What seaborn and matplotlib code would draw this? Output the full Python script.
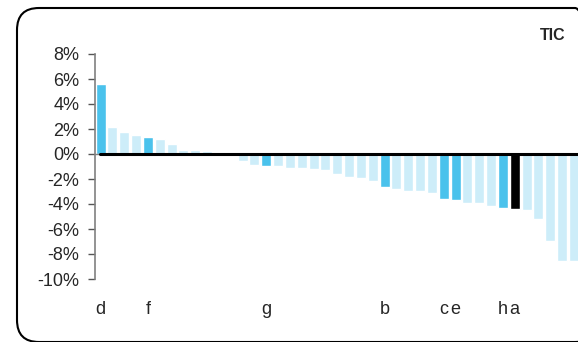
import matplotlib
matplotlib.use("Agg")
import matplotlib.pyplot as plt
from matplotlib.patches import FancyBboxPatch
import pandas as pd
import seaborn as sns

# values in percent, one per bar
values = [5.6, 2.2, 1.8, 1.56, 1.4, 1.24, 0.84, 0.36, 0.36, 0.28, 0.2, 0.03,
          -0.52, -0.84, -0.92, -0.92, -1.08, -1.08, -1.16, -1.24, -1.56, -1.8,
          -1.88, -2.12, -2.6, -2.76, -2.92, -2.92, -3.08, -3.56, -3.64, -3.88,
          -3.88, -4.12, -4.28, -4.36, -4.44, -5.16, -6.92, -8.52, -8.52]
labels = ['d', '', '', '', 'f', '', '', '', '', '', '', '',
          '', '', 'g', '', '', '', '', '', '', '',
          '', '', 'b', '', '', '', '', 'c', 'e', '',
          '', '', 'h', 'a', '', '', '', '', '']
groups = ['hl', 'base', 'base', 'base', 'hl', 'base', 'base', 'base', 'base', 'base', 'base', 'base',
          'base', 'base', 'hl', 'base', 'base', 'base', 'base', 'base', 'base', 'base',
          'base', 'base', 'hl', 'base', 'base', 'base', 'base', 'hl', 'hl', 'base',
          'base', 'base', 'hl', 'focus', 'base', 'base', 'base', 'base', 'base']
yticks = [-10, -8, -6, -4, -2, 0, 2, 4, 6, 8]
ytick_labels = ['-10%', '-8%', '-6%', '-4%', '-2%', '0%', '2%', '4%', '6%', '8%']
title = 'TIC'

palette = {'base': '#CDEDF9', 'hl': '#4AC2EC', 'focus': '#000000'}

df = pd.DataFrame({'pos': list(range(len(values))), 'value': values, 'group': groups})

sns.set_style('white')
plt.rcParams['font.family'] = ['Liberation Sans', 'DejaVu Sans']

fig = plt.figure(figsize=(5.78, 3.42), dpi=100)
ax = fig.add_axes([94.5 / 578, 63 / 342, (578 - 94.5) / 578, 225 / 342])

sns.barplot(data=df, x='pos', y='value', hue='group', palette=palette,
            dodge=False, legend=False, width=0.845, saturation=1, ax=ax)

ax.axhline(0, color='#808080', lw=1, zorder=3)
ax.axhline(0, xmin=0.011, color='black', lw=2.2, zorder=4)

ax.set_xlim(-0.52, 40.35)
ax.set_ylim(-10, 8)
ax.set_yticks(yticks)
ax.set_yticklabels(ytick_labels, fontsize=13)
ax.set_xticks(range(len(labels)))
ax.set_xticklabels(labels, fontsize=13)
ax.tick_params(axis='x', length=0, pad=16)
ax.tick_params(axis='y', left=True, length=5, width=1, color='#555555', pad=6)
ax.set_xlabel('')
ax.set_ylabel('')
for side in ['top', 'right', 'bottom']:
    ax.spines[side].set_visible(False)
ax.spines['left'].set_color('#808080')
ax.spines['left'].set_linewidth(1.2)

fig.text(553 / 578, 1 - 36 / 342, title, fontsize=11.5, fontweight='bold',
         ha='center', va='center')

# rounded frame round the chart, in pixels
frame = FancyBboxPatch((17, 0), 580, 334, boxstyle='round,pad=0,rounding_size=22',
                       transform=None, fill=False, edgecolor='black', lw=1.5,
                       clip_on=False)
fig.add_artist(frame)

fig.savefig('out.png', dpi=100)
